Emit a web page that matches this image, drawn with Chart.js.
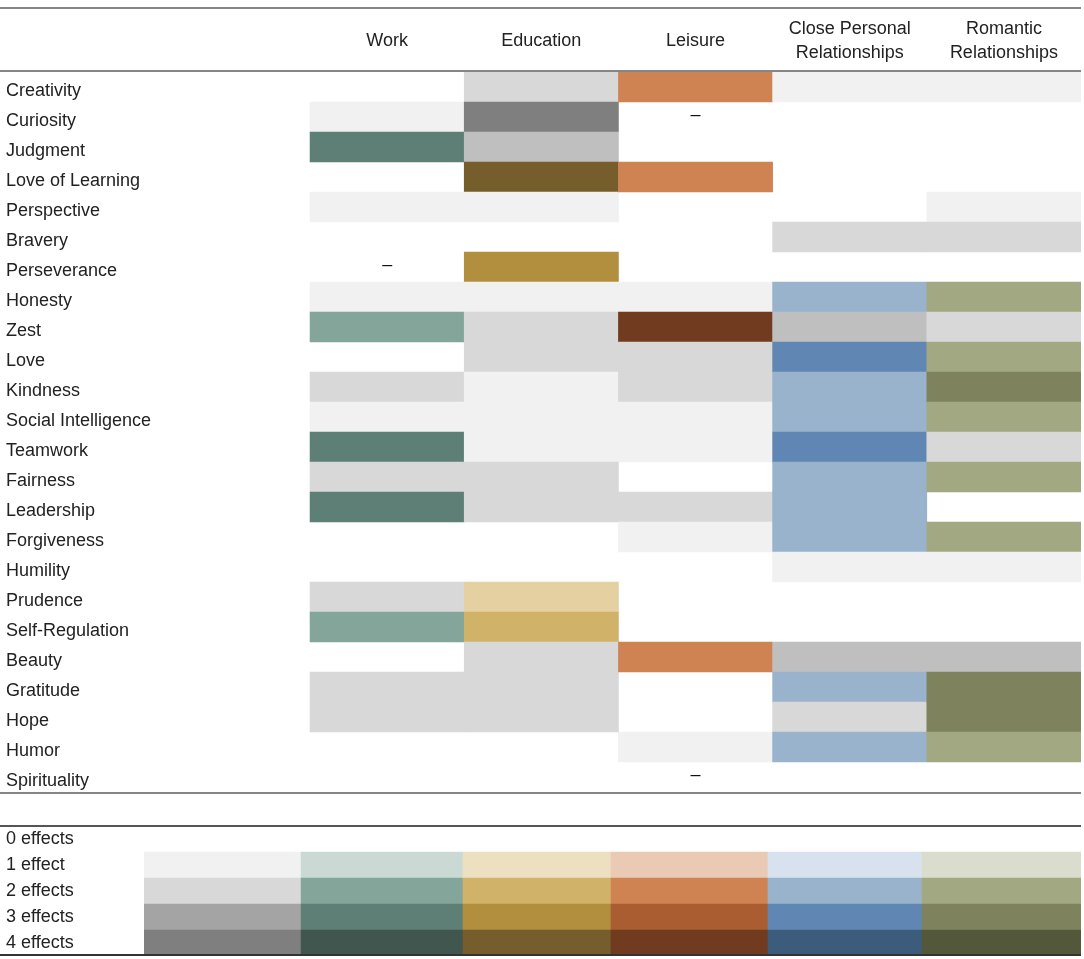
<!DOCTYPE html>
<html lang="en">
<head>
<meta charset="UTF-8">
<title>Character strengths by life domain</title>
<script src="https://cdn.jsdelivr.net/npm/chart.js"></script>
<style>
    body { margin: 0; background: #fff; }
    canvas { display: block; }
</style>
</head>
<body>
<canvas id="tafel" width="1084" height="959"></canvas>
<script>
// table rows
const strengths = ['Creativity', 'Curiosity', 'Judgment', 'Love of Learning', 'Perspective', 'Bravery',
    'Perseverance', 'Honesty', 'Zest', 'Love', 'Kindness', 'Social Intelligence', 'Teamwork', 'Fairness',
    'Leadership', 'Forgiveness', 'Humility', 'Prudence', 'Self-Regulation', 'Beauty', 'Gratitude', 'Hope',
    'Humor', 'Spirituality'];
const domains = ['Work', 'Education', 'Leisure', ['Close Personal', 'Relationships'], ['Romantic', 'Relationships']];

// cell codes: letter = colour family, digit = number of effects, '-' = dash, '' = empty
const work      = ['', 'g1', 't3', '', 'g1', '', '-', 'g1', 't2', '', 'g2', 'g1', 't3', 'g2', 't3', '', '', 'g2', 't2', '', 'g2', 'g2', '', ''];
const education = ['g2', 'g4', 'g3', 'y4', 'g1', '', 'y3', 'g1', 'g2', 'g2', 'g1', 'g1', 'g1', 'g2', 'g2', '', '', 'y1', 'y2', 'g2', 'g2', 'g2', '', ''];
const leisure   = ['o2', '-', '', 'o2', '', '', '', 'g1', 'o4', 'g2', 'g2', 'g1', 'g1', '', 'g2', 'g1', '', '', '', 'o2', '', '', 'g1', '-'];
const closeRel  = ['g1', '', '', '', '', 'g2', '', 'b2', 'g3', 'b3', 'b2', 'b2', 'b3', 'b2', 'b2', 'b2', 'g1', '', '', 'g3', 'b2', 'g2', 'b2', ''];
const romantic  = ['g1', '', '', '', 'g1', 'g2', '', 'v2', 'g2', 'v2', 'v3', 'v2', 'g2', 'v2', '', 'v2', 'g1', '', '', 'g3', 'v3', 'v3', 'v2', ''];

// key below the table
const keyLabels = ['0 effects', '1 effect', '2 effects', '3 effects', '4 effects'];
const keyFamilies = ['g', 't', 'y', 'o', 'b', 'v'];
const keyLevels = [1, 2, 3, 4];

// colours per family, 1..4 effects
const palettes = {
    g: ['#f1f1f1', '#d8d8d8', '#a4a4a4', '#7f7f7f'],
    t: ['#cbd9d5', '#83a59a', '#5e7f76', '#41564f'],
    y: ['#ece0c0', '#d0b268', '#b28f3f', '#765d2c'],
    o: ['#eac9b5', '#d08352', '#a95d30', '#703b1e'],
    b: ['#d7e2ee', '#9ab3cd', '#6087b3', '#3d5c7b'],
    v: ['#dadccd', '#a2a882', '#7f835d', '#54583b']
};
// the table uses a couple of shades that differ from the key
const tableShades = { g3: '#bfbfbf', y1: '#e4d0a1' };

// layout (axis units)
const X_MIN = -1.077;
const keyEdges = [X_MIN, -0.058, 0.992, 1.952, 2.970, 3.969, 5];
const KEY_MAX = 34;          // key rows on y2
const KEY_FIRST = 29;        // '0 effects' row on y2
const KEY_ROW_RATIO = 26 / 30;
const LABEL_SHIFT = 0.15;

const columns = [work, education, leisure, closeRel, romantic];
const tableCells = [], tableColors = [], dashes = [];
columns.forEach((col, c) => col.forEach((code, r) => {
    if (!code) return;
    if (code === '-') { dashes.push({ c, r }); return; }
    tableCells.push({ x: [c, c + 1], y: r + 0.5 });
    tableColors.push(tableShades[code] || palettes[code[0]][+code[1] - 1]);
}));

const keyCells = [], keyColors = [];
keyFamilies.forEach((f, i) => keyLevels.forEach(level => {
    keyCells.push({ x: [keyEdges[i], keyEdges[i + 1]], y: KEY_FIRST + level + 0.5 });
    keyColors.push(palettes[f][level - 1]);
}));

// rules and dashes
const tableExtras = {
    id: 'tableExtras',
    afterDatasetsDraw(chart) {
        const { ctx, chartArea, scales } = chart;
        const rule = (y, color) => {
            ctx.save();
            ctx.strokeStyle = color;
            ctx.lineWidth = 2;
            ctx.beginPath();
            ctx.moveTo(0, y);
            ctx.lineTo(chartArea.right, y);
            ctx.stroke();
            ctx.restore();
        };
        rule(scales.x.top + 1, '#858585');
        rule(chartArea.top - 1, '#858585');
        rule(scales.y.getPixelForValue(strengths.length) + 1, '#858585');
        rule(scales.y2.getPixelForValue(KEY_FIRST), '#555555');
        rule(scales.y2.getPixelForValue(KEY_MAX) - 1, '#333333');

        ctx.save();
        ctx.fillStyle = '#111';
        ctx.font = "18px 'Liberation Sans', Arial, sans-serif";
        ctx.textAlign = 'center';
        ctx.textBaseline = 'middle';
        dashes.forEach(d => {
            ctx.fillText('–', scales.x.getPixelForValue(d.c + 0.5), scales.y.getPixelForValue(d.r + 0.5) - 2);
        });
        ctx.restore();
    }
};

// no extra room for half labels at the ends of the vertical axes
const noEndPadding = s => { s.paddingTop = 0; s.paddingBottom = 0; };

Chart.defaults.font.family = "'Liberation Sans', Arial, sans-serif";
Chart.defaults.font.size = 18;
Chart.defaults.color = '#222';

new Chart(document.getElementById('tafel'), {
    type: 'bar',
    data: {
        datasets: [
            {
                label: 'table',
                data: tableCells,
                backgroundColor: tableColors,
                yAxisID: 'y',
                grouped: false,
                barPercentage: 1,
                categoryPercentage: 1,
                borderWidth: 0
            },
            {
                label: 'key',
                data: keyCells,
                backgroundColor: keyColors,
                yAxisID: 'y2',
                grouped: false,
                barPercentage: 1,
                categoryPercentage: 1,
                borderWidth: 0
            }
        ]
    },
    options: {
        indexAxis: 'y',
        responsive: false,
        animation: false,
        layout: { padding: { left: 6, right: 3, top: 7, bottom: 3 } },
        plugins: {
            legend: { display: false },
            tooltip: { enabled: false }
        },
        scales: {
            x: {
                type: 'linear',
                position: 'top',
                min: X_MIN,
                max: 5,
                offset: false,
                grid: { display: false, drawTicks: false },
                border: { display: false },
                afterBuildTicks: s => { s.ticks = domains.map((_, i) => ({ value: i + 0.5 })); },
                afterFit: s => { s.height = 65; s.paddingLeft = 0; s.paddingRight = 0; },
                ticks: {
                    autoSkip: false,
                    maxRotation: 0,
                    crossAlign: 'center',
                    padding: 19,
                    font: { lineHeight: 1.33 },
                    callback: (v, i) => domains[i]
                }
            },
            // strengths: outer axis of zero width, labels mirrored so they are not clipped
            y: {
                type: 'linear',
                position: 'left',
                weight: 1,
                reverse: true,
                offset: false,
                min: 0,
                max: KEY_MAX * KEY_ROW_RATIO,
                grid: { display: false, drawTicks: false },
                border: { display: false },
                afterBuildTicks: s => { s.ticks = strengths.map((_, i) => ({ value: i + 0.5 + LABEL_SHIFT })); },
                afterFit: s => { s.width = 0; noEndPadding(s); },
                ticks: {
                    autoSkip: false,
                    mirror: true,
                    crossAlign: 'near',
                    padding: 0,
                    callback: (v, i) => strengths[i]
                }
            },
            // key rows
            y2: {
                type: 'linear',
                position: 'left',
                weight: 0,
                reverse: true,
                offset: false,
                min: 0,
                max: KEY_MAX,
                grid: { display: false, drawTicks: false },
                border: { display: false },
                afterBuildTicks: s => { s.ticks = keyLabels.map((_, i) => ({ value: KEY_FIRST + i + 0.5 })); },
                afterFit: s => { s.width = 138; noEndPadding(s); },
                ticks: {
                    autoSkip: false,
                    crossAlign: 'far',
                    callback: (v, i) => keyLabels[i]
                }
            }
        }
    },
    plugins: [tableExtras]
});
</script>
</body>
</html>
